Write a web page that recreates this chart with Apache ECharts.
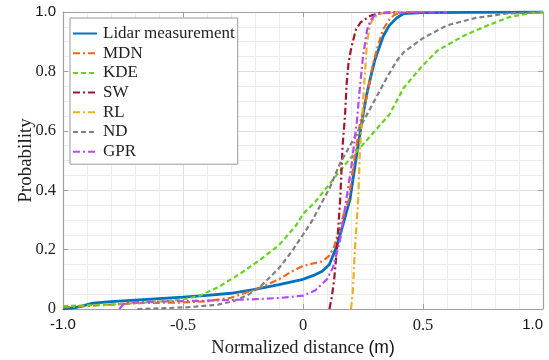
<!DOCTYPE html>
<html>
<head>
<meta charset="utf-8">
<script src="https://cdn.jsdelivr.net/npm/echarts@6/dist/echarts.min.js"></script>
<style>html,body{margin:0;padding:0;background:#fff;}#c{width:549px;height:360px;}</style>
</head>
<body>
<div id="c"></div>
<script>
const seriesNames = ['Lidar measurement', 'MDN', 'KDE', 'SW', 'RL', 'ND', 'GPR'];
const xTickLabels = ['-1.0', '-0.5', '0', '0.5', '1.0'];
const yTickLabels = ['0', '0.2', '0.4', '0.6', '0.8', '1.0'];

const lidar = [[-1.0,0],[-0.95,0.005],[-0.93,0.008],[-0.875,0.02],[-0.8,0.025],[-0.7,0.03],[-0.6,0.035],[-0.5,0.04],[-0.4,0.046],[-0.3,0.053],[-0.2,0.066],[-0.1,0.082],[0,0.1],[0.05,0.115],[0.08,0.127],[0.11,0.15],[0.14,0.21],[0.167,0.285],[0.196,0.37],[0.22,0.5],[0.246,0.636],[0.265,0.72],[0.28,0.775],[0.3,0.84],[0.335,0.92],[0.36,0.955],[0.39,0.98],[0.42,0.995],[0.5,0.998],[0.7,0.999],[1.0,1.0]];
const mdn = [[-1.0,0.005],[-0.9,0.01],[-0.8,0.015],[-0.68,0.02],[-0.5,0.022],[-0.4,0.026],[-0.3,0.038],[-0.2,0.065],[-0.1,0.1],[-0.05,0.125],[0,0.145],[0.05,0.155],[0.08,0.16],[0.11,0.18],[0.13,0.21],[0.154,0.28],[0.19,0.367],[0.21,0.48],[0.2375,0.626],[0.267,0.72],[0.29,0.82],[0.31,0.88],[0.333,0.94],[0.36,0.975],[0.38,0.99],[0.42,1.0],[0.5,1.0]];
const kde = [[-1.0,0.01],[-0.9,0.012],[-0.8,0.015],[-0.7,0.02],[-0.6,0.025],[-0.5,0.032],[-0.43,0.045],[-0.35,0.075],[-0.26,0.12],[-0.18,0.165],[-0.1,0.215],[-0.03,0.28],[0,0.32],[0.05,0.36],[0.12,0.43],[0.154,0.465],[0.2,0.51],[0.24,0.545],[0.3,0.6],[0.36,0.655],[0.42,0.745],[0.49,0.812],[0.56,0.87],[0.67,0.92],[0.77,0.955],[0.86,0.983],[0.95,0.997],[1.0,1.0]];
const sw = [[0.11,0],[0.12,0.04],[0.13,0.1],[0.14,0.19],[0.155,0.37],[0.165,0.55],[0.175,0.65],[0.182,0.76],[0.19,0.83],[0.2,0.875],[0.22,0.94],[0.24,0.965],[0.28,0.987],[0.32,0.997],[0.4,1.0]];
const rl = [[0.2,0],[0.207,0.05],[0.217,0.21],[0.23,0.37],[0.238,0.55],[0.246,0.64],[0.256,0.77],[0.267,0.9],[0.28,0.96],[0.3,0.985],[0.33,0.995],[0.4,1.0]];
const nd = [[-0.69,0],[-0.6,0.002],[-0.48,0.006],[-0.36,0.014],[-0.29,0.026],[-0.23,0.047],[-0.18,0.074],[-0.14,0.105],[-0.1,0.138],[-0.05,0.19],[0,0.25],[0.04,0.3],[0.1125,0.41],[0.154,0.49],[0.196,0.55],[0.25,0.63],[0.29,0.69],[0.35,0.78],[0.39,0.835],[0.42,0.865],[0.5,0.912],[0.6,0.955],[0.72,0.98],[0.85,0.995],[1.0,1.0]];
const gpr = [[-0.765,0],[-0.75,0.015],[-0.73,0.022],[-0.6,0.025],[-0.4,0.028],[-0.2,0.033],[-0.1,0.037],[0,0.045],[0.05,0.062],[0.1,0.1],[0.125,0.14],[0.154,0.23],[0.18,0.367],[0.2,0.47],[0.225,0.636],[0.2375,0.75],[0.25,0.85],[0.267,0.94],[0.28,0.97],[0.3,0.99],[0.33,0.997],[0.6,1.0]];

const allData = [lidar, mdn, kde, sw, rl, nd, gpr];
const colors = ['#0072BD', '#F4661B', '#66D41E', '#A2142F', '#EDB120', '#808080', '#B849F7'];
const dashes = ['solid', [7,3,2,3], [5,3], [7,3,2,3], [7,3,2,3], [5,3], [7,3,2,3]];
const widths = [2.8, 2.2, 2.2, 2.2, 2.2, 2.2, 2.2];

const serif = 'Liberation Serif';
const sans = 'Liberation Sans';

const chart = echarts.init(document.getElementById('c'), null, {renderer: 'canvas'});

function xLab(v) {
  const i = Math.round((v + 1) / 0.5);
  const t = xTickLabels[i];
  if (t === undefined) return '';
  return (t === '-1.0' || t === '1.0') ? '{s|' + t + '}' : '{r|' + t + '}';
}
function yLab(v) {
  const i = Math.round(v / 0.2);
  const t = yTickLabels[i];
  if (t === undefined) return '';
  return (t === '1.0') ? '{s|' + t + '}' : '{r|' + t + '}';
}
const labRich = {
  s: {fontFamily: sans, fontSize: 15, color: '#111'},
  r: {fontFamily: serif, fontSize: 16.5, color: '#222'}
};
const boxAxis = {
  axisLine: {show: true, onZero: false, lineStyle: {color: '#a0a0a0', width: 1.2}},
  axisTick: {show: true, inside: true, length: 5, lineStyle: {color: '#a0a0a0'}}
};

const option = {
  backgroundColor: '#fff',
  animation: false,
  color: colors,
  grid: {left: 63, right: 6, top: 12, bottom: 51, show: false, containLabel: false, outerBoundsMode: 'none'},
  legend: {
    left: 70, top: 18,
    orient: 'vertical',
    data: seriesNames,
    itemWidth: 24, itemHeight: 12, itemGap: 2.7,
    padding: [7, 3, 4, 2],
    backgroundColor: '#fff',
    borderColor: '#9a9a9a', borderWidth: 1,
    itemStyle: {color: 'rgba(0,0,0,0)', borderWidth: 0, opacity: 0},
    textStyle: {fontFamily: serif, fontSize: 17, color: '#222', padding: [0, 0, 0, 1]}
  },
  xAxis: [Object.assign({
    type: 'value', min: -1, max: 1, interval: 0.5,
    position: 'bottom',
    name: '{a|Normalized distance }{b|(m)}',
    nameLocation: 'middle', nameGap: 30,
    nameTextStyle: {rich: {a: {fontFamily: serif, fontSize: 18.5, color: '#222'}, b: {fontFamily: sans, fontSize: 17.5, color: '#111'}}},
    axisLabel: {formatter: xLab, rich: labRich, margin: 8, alignMaxLabel: 'right'},
    splitLine: {show: true, lineStyle: {color: '#dedede', width: 1}},
    minorTick: {show: false, splitNumber: 5},
    minorSplitLine: {show: true, lineStyle: {color: '#ececec', width: 1}}
  }, boxAxis), Object.assign({
    type: 'value', min: -1, max: 1, interval: 0.5,
    position: 'top',
    axisLabel: {show: false},
    splitLine: {show: false}
  }, boxAxis)],
  yAxis: [Object.assign({
    type: 'value', min: 0, max: 1, interval: 0.2,
    position: 'left',
    name: 'Probability',
    nameLocation: 'middle', nameGap: 27, nameRotate: 90, nameMoveOverlap: false,
    nameTextStyle: {fontFamily: serif, fontSize: 19, color: '#222'},
    axisLabel: {formatter: yLab, rich: labRich, margin: 7},
    splitLine: {show: true, lineStyle: {color: '#dedede', width: 1}},
    minorTick: {show: false, splitNumber: 4},
    minorSplitLine: {show: true, lineStyle: {color: '#ececec', width: 1}}
  }, boxAxis), Object.assign({
    type: 'value', min: 0, max: 1, interval: 0.2,
    position: 'right',
    axisLabel: {show: false},
    splitLine: {show: false}
  }, boxAxis)],
  series: seriesNames.map((n, i) => ({
    name: n,
    type: 'line',
    xAxisIndex: 0, yAxisIndex: 0,
    data: allData[i],
    symbol: 'none',
    showSymbol: false,
    smooth: false,
    clip: true,
    lineStyle: {color: colors[i], width: widths[i], type: dashes[i]},
    itemStyle: {color: colors[i]}
  }))
};
chart.setOption(option);
</script>
</body>
</html>
